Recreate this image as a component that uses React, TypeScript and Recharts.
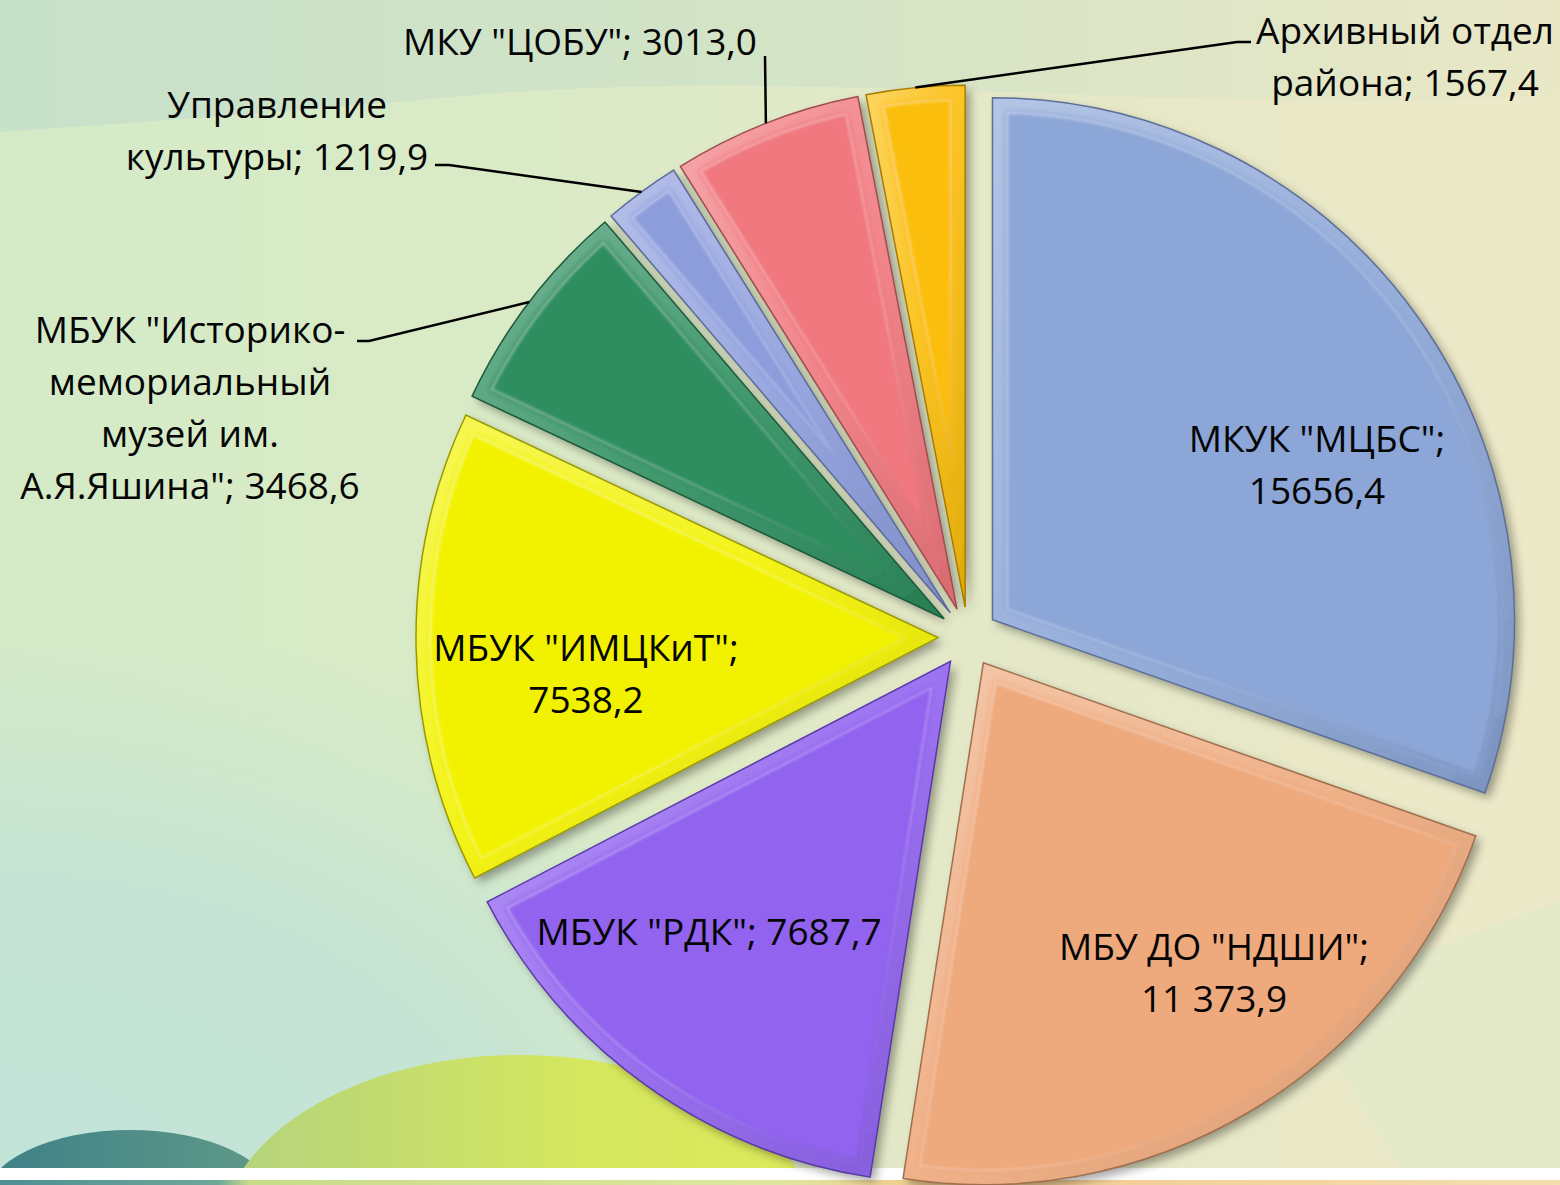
import React from 'react';
import { PieChart, Pie, Cell, Sector } from 'recharts';

// ---------- data ----------
const categories = [
  'МКУК "МЦБС"',
  'МБУ ДО "НДШИ"',
  'МБУК "РДК"',
  'МБУК "ИМЦКиТ"',
  'МБУК "Историко-мемориальный музей им. А.Я.Яшина"',
  'Управление культуры',
  'МКУ "ЦОБУ"',
  'Архивный отдел района',
];
const values = [15656.4, 11373.9, 7687.7, 7538.2, 3468.6, 1219.9, 3013.0, 1567.4];
const labelLines: string[][] = [
  ['МКУК "МЦБС";', '15656,4'],
  ['МБУ ДО "НДШИ";', '11 373,9'],
  ['МБУК "РДК"; 7687,7'],
  ['МБУК "ИМЦКиТ";', '7538,2'],
  ['МБУК "Историко-', 'мемориальный', 'музей им.', 'А.Я.Яшина"; 3468,6'],
  ['Управление', 'культуры; 1219,9'],
  ['МКУ "ЦОБУ"; 3013,0'],
  ['Архивный отдел', 'района; 1567,4'],
];
const colors = ['#8CA6D7', '#EEA97C', '#9164EF', '#F2F200', '#2F8E5E', '#8D9DDC', '#F0787E', '#FBBE08'];
const edgeColors = ['#5c6f99', '#a0704e', '#5a3aa8', '#9a9a00', '#1c5a3a', '#5c6a9c', '#a04c50', '#a87c00'];

// ---------- layout (not data) ----------
const W = 1560;
const H = 1185;
const CX = 968;
const CY = 637;
const R = 522;
const EXPLODE = 30;
const FONT = '"Open Sans", "Noto Sans", sans-serif';
const FONT_SIZE = 37;
const LINE_H = 52;
const RAD = Math.PI / 180;

// label block centres relative to the pie centre
const LABEL_POS: [number, number][] = [
  [349, -174.5],
  [246, 334],
  [-259, 293],
  [-382, 34.5],
  [-778, -231.5],
  [-691, -508],
  [-388, -597],
  [437, -582.5],
];
// leader line start (relative to label centre) and elbow length
const LEADER: ({ from: [number, number]; elbow: number } | null)[] = [
  null,
  null,
  null,
  null,
  { from: [167, -64.5], elbow: 12 },
  { from: [158, 36], elbow: 14 },
  { from: [185, 16], elbow: 0 },
  { from: [-154, -12.5], elbow: -14 },
];

const data = categories.map((name, i) => ({ name, value: values[i] }));

const idxOf = (p: any): number => {
  if (typeof p.index === 'number') return p.index;
  const n = p.name ?? p.payload?.name;
  return Math.max(0, categories.indexOf(n));
};

const BevelSector = (props: any) => {
  const { cx, cy, midAngle, innerRadius, outerRadius, startAngle, endAngle, fill } = props;
  const i = idxOf(props);
  const a = -midAngle * RAD;
  const ox = cx + EXPLODE * Math.cos(a);
  const oy = cy + EXPLODE * Math.sin(a);
  const common = { cx: ox, cy: oy, innerRadius, outerRadius, startAngle, endAngle };
  const clipId = `sector-clip-${i}`;
  return (
    <g>
      <defs>
        <clipPath id={clipId}>
          <Sector {...common} />
        </clipPath>
      </defs>
      <g filter="url(#sliceShadow)">
        <Sector {...common} fill={fill} stroke="none" />
      </g>
      <g clipPath={`url(#${clipId})`}>
        <g filter="url(#ridgeBlur)">
          <Sector {...common} fill="none" stroke="url(#ridgeGrad)" strokeWidth={32} />
          <Sector {...common} fill="none" stroke={fill} strokeWidth={28} />
        </g>
        <g filter="url(#softBlur)">
          <Sector {...common} fill="none" stroke="url(#bevelGrad)" strokeWidth={26} />
        </g>
      </g>
      <Sector {...common} fill="none" stroke={edgeColors[i]} strokeWidth={1.5} />
    </g>
  );
};

const renderLabel = (props: any) => {
  const { cx, cy, midAngle, outerRadius } = props;
  const i = idxOf(props);
  const [dx, dy] = LABEL_POS[i];
  const lx = cx + dx;
  const ly = cy + dy;
  const lines = labelLines[i];
  const y0 = ly - ((lines.length - 1) * LINE_H) / 2;
  const leader = LEADER[i];
  let line: React.ReactNode = null;
  if (leader) {
    const a = -midAngle * RAD;
    const ex = cx + (EXPLODE + outerRadius) * Math.cos(a);
    const ey = cy + (EXPLODE + outerRadius) * Math.sin(a);
    const sx = lx + leader.from[0];
    const sy = ly + leader.from[1];
    const pts = leader.elbow
      ? `${sx},${sy} ${sx + leader.elbow},${sy} ${ex},${ey}`
      : `${sx},${sy} ${ex},${ey}`;
    line = <polyline points={pts} fill="none" stroke="#000" strokeWidth={2.5} />;
  }
  return (
    <g key={`lbl-${i}`}>
      {line}
      <text
        x={lx}
        y={y0}
        textAnchor="middle"
        dominantBaseline="central"
        fontFamily={FONT}
        fontSize={FONT_SIZE}
        fill="#050505"
      >
        {lines.map((t, k) => (
          <tspan key={k} x={lx} y={y0 + k * LINE_H}>
            {t}
          </tspan>
        ))}
      </text>
    </g>
  );
};

const Background = () => (
  <svg width={W} height={H} style={{ position: 'absolute', left: 0, top: 0 }}>
    <defs>
      <linearGradient id="bgMain" x1="0" y1="0" x2="1" y2="0">
        <stop offset="0" stopColor="#d4eac7" />
        <stop offset="0.3" stopColor="#d9ebc6" />
        <stop offset="0.6" stopColor="#e3e8c7" />
        <stop offset="1" stopColor="#ede9c8" />
      </linearGradient>
      <linearGradient id="bgTop" x1="0" y1="0" x2="1" y2="0">
        <stop offset="0" stopColor="#c6e0cb" />
        <stop offset="0.5" stopColor="#d2e3c6" />
        <stop offset="1" stopColor="#e8e7c6" />
      </linearGradient>
      <radialGradient id="bgLow" cx="0" cy="1" r="1">
        <stop offset="0" stopColor="#c2e4d9" stopOpacity="1" />
        <stop offset="0.55" stopColor="#c5e4d4" stopOpacity="1" />
        <stop offset="1" stopColor="#c8e5d2" stopOpacity="0" />
      </radialGradient>
      <linearGradient id="hillTeal" x1="0" y1="0" x2="1" y2="0">
        <stop offset="0" stopColor="#3f8088" />
        <stop offset="1" stopColor="#5f9a88" />
      </linearGradient>
      <linearGradient id="hillGreen" x1="0" y1="0" x2="1" y2="0">
        <stop offset="0" stopColor="#b3d27e" />
        <stop offset="0.6" stopColor="#d5e75e" />
        <stop offset="1" stopColor="#dce95a" />
      </linearGradient>
      <linearGradient id="bottomBand" x1="0" y1="0" x2="1" y2="0">
        <stop offset="0" stopColor="#4f8f93" />
        <stop offset="0.14" stopColor="#6ea79a" />
        <stop offset="0.16" stopColor="#c8dc88" />
        <stop offset="0.5" stopColor="#dfe6a0" />
        <stop offset="0.6" stopColor="#f2c98c" />
        <stop offset="1" stopColor="#f3deb0" />
      </linearGradient>
    </defs>
    <rect x={0} y={0} width={W} height={H} fill="url(#bgMain)" />
    <path d="M0,0 L1560,0 L1560,95 C1200,120 800,60 420,100 C250,115 100,125 0,132 Z" fill="url(#bgTop)" opacity={0.9} />
    <rect x={0} y={620} width={900} height={565} fill="url(#bgLow)" />
    <path d="M1300,1000 L1560,900 L1560,1168 L1400,1168 Z" fill="#e2e9cb" opacity={0.8} />
    <ellipse cx={130} cy={1200} rx={145} ry={70} fill="url(#hillTeal)" />
    <ellipse cx={520} cy={1240} rx={300} ry={185} fill="url(#hillGreen)" />
    <rect x={0} y={1168} width={W} height={12} fill="#ffffff" />
    <rect x={0} y={1180} width={W} height={5} fill="url(#bottomBand)" />
  </svg>
);

export default function App() {
  return (
    <div style={{ position: 'absolute', left: 0, top: 0, width: W, height: H, overflow: 'hidden' }}>
      <Background />
      <div style={{ position: 'absolute', left: 0, top: 0 }}>
        <PieChart width={W} height={H} margin={{ top: 0, right: 0, bottom: 0, left: 0 }}>
          <defs>
            <filter id="sliceShadow" x="-20%" y="-20%" width="150%" height="150%">
              <feDropShadow dx="5" dy="5" stdDeviation="5" floodColor="#000" floodOpacity="0.35" />
            </filter>
            <filter id="softBlur" x="-10%" y="-10%" width="120%" height="120%">
              <feGaussianBlur stdDeviation="3" />
            </filter>
            <filter id="ridgeBlur" x="-10%" y="-10%" width="120%" height="120%">
              <feGaussianBlur stdDeviation="0.8" />
            </filter>
            <linearGradient id="bevelGrad" x1="0" y1="0" x2="1" y2="1">
              <stop offset="0" stopColor="#ffffff" stopOpacity="0.35" />
              <stop offset="0.5" stopColor="#ffffff" stopOpacity="0.1" />
              <stop offset="1" stopColor="#000000" stopOpacity="0.1" />
            </linearGradient>
            <linearGradient id="ridgeGrad" x1="0" y1="0" x2="1" y2="1">
              <stop offset="0" stopColor="#ffffff" stopOpacity="0.3" />
              <stop offset="0.6" stopColor="#ffffff" stopOpacity="0.18" />
              <stop offset="1" stopColor="#000000" stopOpacity="0.1" />
            </linearGradient>
          </defs>
          <Pie
            data={data}
            dataKey="value"
            nameKey="name"
            cx={CX}
            cy={CY}
            innerRadius={0}
            outerRadius={R}
            startAngle={90}
            endAngle={-270}
            stroke="none"
            isAnimationActive={false}
            shape={BevelSector}
            label={renderLabel}
            labelLine={false}
          >
            {data.map((d, i) => (
              <Cell key={d.name} fill={colors[i]} />
            ))}
          </Pie>
        </PieChart>
      </div>
    </div>
  );
}
